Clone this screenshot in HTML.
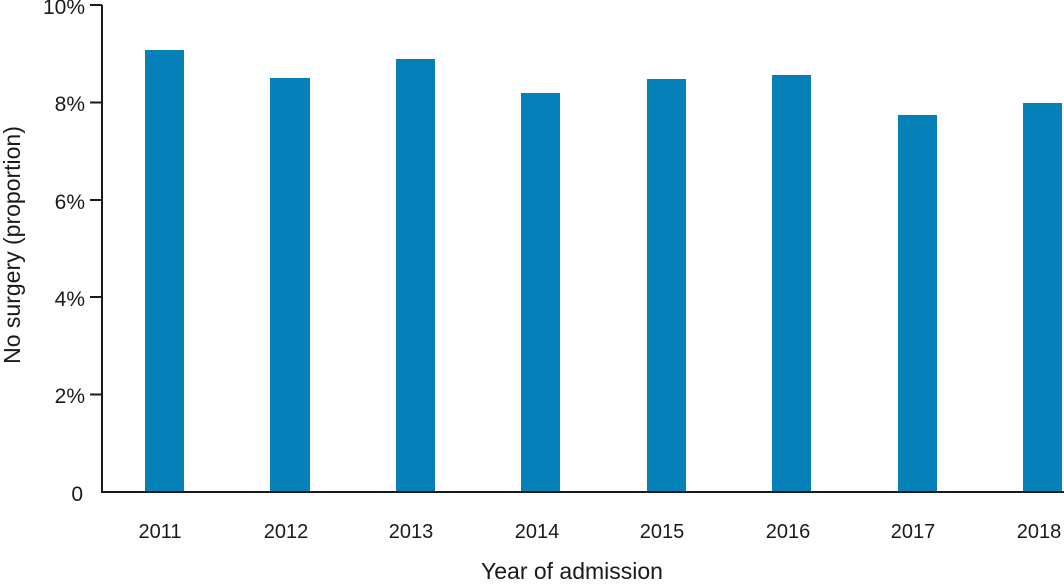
<!DOCTYPE html><html><head><style>body{margin:0;background:#fff}</style></head><body>
<svg width="1064" height="581" xmlns="http://www.w3.org/2000/svg" font-family="Liberation Sans, sans-serif" fill="#1a1a1a">
<g fill="#0580b8">
<rect x="145" y="50" width="39" height="442"/>
<rect x="270" y="78" width="40" height="414"/>
<rect x="396" y="59" width="39" height="433"/>
<rect x="521" y="93" width="39" height="399"/>
<rect x="647" y="79" width="39" height="413"/>
<rect x="772" y="75" width="39" height="417"/>
<rect x="898" y="115" width="39" height="377"/>
<rect x="1023" y="103" width="39" height="389"/>
</g>
<g stroke="#1a1a1a" stroke-width="2" fill="none">
<path d="M102 5V492H1064"/>
<path d="M90 5H102M90 102.5H102M90 200H102M90 297H102M90 394.5H102"/>
</g>
<g font-size="21" text-anchor="end">
<text x="85" y="14">10%</text>
<text x="85" y="111">8%</text>
<text x="85" y="209">6%</text>
<text x="85" y="306">4%</text>
<text x="85" y="403">2%</text>
<text x="83" y="501">0</text>
</g>
<g font-size="20" text-anchor="middle">
<text x="160" y="538">2011</text>
<text x="286" y="538">2012</text>
<text x="411" y="538">2013</text>
<text x="537" y="538">2014</text>
<text x="662" y="538">2015</text>
<text x="788" y="538">2016</text>
<text x="913" y="538">2017</text>
<text x="1039" y="538">2018</text>
</g>
<text x="572" y="579" font-size="23" text-anchor="middle">Year of admission</text>
<text transform="translate(20,245) rotate(-90)" font-size="23" text-anchor="middle">No surgery (proportion)</text>
</svg>
</body></html>
